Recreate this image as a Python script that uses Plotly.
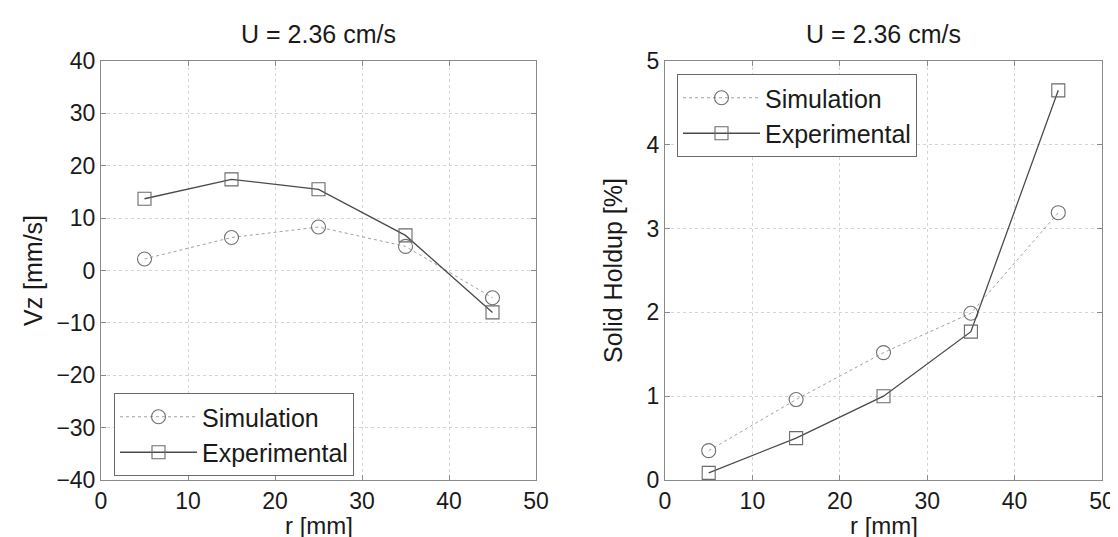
import plotly.graph_objects as go

r_mm = [5, 15, 25, 35, 45]
vz_sim = [2.2, 6.3, 8.3, 4.6, -5.2]
vz_exp = [13.7, 17.4, 15.5, 6.7, -8.0]
hold_sim = [0.35, 0.96, 1.52, 1.99, 3.19]
hold_exp = [0.085, 0.50, 1.0, 1.77, 4.65]
series_names = ["Simulation", "Experimental"]
title_text = "U = 2.36 cm/s"
x_label = "r [mm]"
y_labels = ["Vz [mm/s]", "Solid Holdup [%]"]

FONT = "Arial, Liberation Sans, sans-serif"
W, H = 1118, 537
TICK = 23
TXT = 25

sim_style = dict(mode="lines+markers",
                 line=dict(color="#a0a0a0", width=1, dash="dot"),
                 marker=dict(symbol="circle-open", size=14, color="#707070",
                             line=dict(width=1.1, color="#707070")))
exp_style = dict(mode="lines+markers",
                 line=dict(color="#4a4a4a", width=1.3),
                 marker=dict(symbol="square-open", size=13, color="#6a6a6a",
                             line=dict(width=1.1, color="#6a6a6a")))

fig = go.Figure()
fig.add_trace(go.Scatter(x=r_mm, y=vz_sim, name=series_names[0], xaxis="x", yaxis="y",
                         legend="legend", legendgroup="a", **sim_style))
fig.add_trace(go.Scatter(x=r_mm, y=vz_exp, name=series_names[1], xaxis="x", yaxis="y",
                         legend="legend", legendgroup="b", **exp_style))
fig.add_trace(go.Scatter(x=r_mm, y=hold_sim, name=series_names[0], xaxis="x2", yaxis="y2",
                         legend="legend2", legendgroup="c", **sim_style))
fig.add_trace(go.Scatter(x=r_mm, y=hold_exp, name=series_names[1], xaxis="x2", yaxis="y2",
                         legend="legend2", legendgroup="d", **exp_style))

def px_x(p):
    return p / W

def px_y(p):
    return 1 - p / H

axis_common = dict(showline=True, linecolor="#8a8a8a", linewidth=1, mirror="ticks",
                   ticks="inside", ticklen=5, tickcolor="#8a8a8a",
                   showgrid=True, gridcolor="#d4d4d4", griddash="dot", gridwidth=1,
                   zeroline=False, tickfont=dict(size=TICK, color="#1a1a1a", family=FONT),
                   automargin=False)

legend_common = dict(xanchor="left", yanchor="top", bgcolor="white",
                     bordercolor="#6a6a6a", borderwidth=1,
                     font=dict(size=TXT, family=FONT, color="#1a1a1a"),
                     tracegroupgap=0, itemwidth=77)

L = (93, 528)
R = (657, 1094)

def ann(text, x, y, size=TXT, **kw):
    d = dict(text=text, x=x, y=y, xref="paper", yref="paper", showarrow=False,
             font=dict(size=size, family=FONT, color="#1a1a1a"),
             xanchor="center", yanchor="middle")
    d.update(kw)
    return d

fig.update_layout(
    width=W, height=H,
    margin=dict(l=0, r=0, t=0, b=0),
    paper_bgcolor="white", plot_bgcolor="white",
    font=dict(family=FONT, size=TXT, color="#1a1a1a"),
    xaxis=dict(domain=[px_x(L[0]), px_x(L[1])], range=[0, 50], dtick=10, anchor="y",
               **axis_common),
    yaxis=dict(domain=[px_y(472), px_y(53)], range=[-40, 40], dtick=10, anchor="x",
               title=dict(text=y_labels[0], standoff=6, font=dict(size=TXT)), **axis_common),
    xaxis2=dict(domain=[px_x(R[0]), px_x(R[1])], range=[0, 50], dtick=10, anchor="y2",
                **axis_common),
    yaxis2=dict(domain=[px_y(472), px_y(53)], range=[0, 5], dtick=1, anchor="x2",
                title=dict(text=y_labels[1], standoff=16, font=dict(size=TXT)), **axis_common),
    legend=dict(x=px_x(106), y=px_y(385), **legend_common),
    legend2=dict(x=px_x(669), y=px_y(66), **legend_common),
    annotations=[
        ann(title_text, px_x((L[0] + L[1]) / 2), px_y(26)),
        ann(title_text, px_x((R[0] + R[1]) / 2), px_y(26)),
        ann(x_label, px_x((L[0] + L[1]) / 2), px_y(533), size=24, yanchor="bottom", yshift=0),
        ann(x_label, px_x((R[0] + R[1]) / 2), px_y(533), size=24, yanchor="bottom", yshift=0),
    ],
)

fig.write_html("out.html")
